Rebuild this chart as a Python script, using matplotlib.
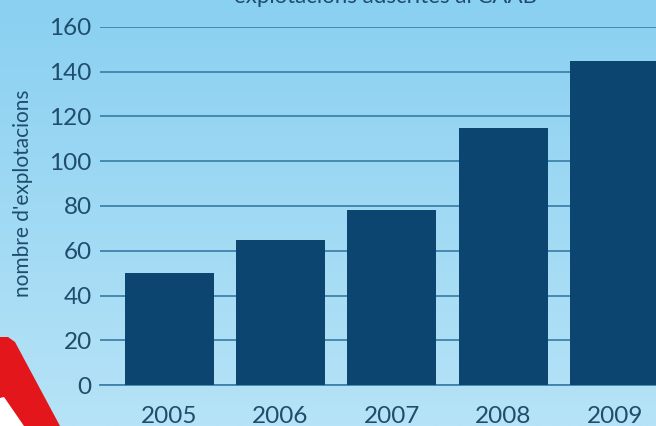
import numpy as np
import matplotlib.pyplot as plt
from matplotlib.patches import Polygon

years = ['2005', '2006', '2007', '2008', '2009']
explotacions = [50, 65, 78, 115, 145]
yticks = [0, 20, 40, 60, 80, 100, 120, 140, 160]

txt = '#1f4d6b'
plt.rcParams['font.family'] = ['Lato', 'DejaVu Sans']

fig = plt.figure(figsize=(6.56, 4.26), dpi=100)

# background gradient
bg = fig.add_axes([0, 0, 1, 1], zorder=0)
grad = np.linspace(0, 1, 256).reshape(-1, 1)
top = np.array([138, 208, 241]) / 255
bot = np.array([182, 227, 247]) / 255
img = top + (bot - top) * grad[:, :, None]
bg.imshow(img, aspect='auto', extent=[0, 1, 0, 1])
bg.set_axis_off()

# red warning sign corner
bg.add_patch(Polygon([(0, 1 - 337/426), (8/656, 1 - 337/426), (15/656, 1 - 342/426),
                      (60/656, 0), (0, 0)], closed=True,
                     facecolor='#e3161b', edgecolor='none', transform=bg.transAxes))
bg.add_patch(Polygon([(0, 1 - 398/426), (4/656, 1 - 397/426), (24/656, 0), (0, 0)],
                     closed=True, facecolor='white', edgecolor='none', transform=bg.transAxes))

ax = fig.add_axes([100/656, 41/426, 556/656, 358/426], zorder=1)
ax.patch.set_alpha(0)
x = np.arange(len(years))
ax.bar(x, explotacions, width=0.8, color='#0b4570', zorder=3)
ax.set_xlim(-0.62, 4.37)
ax.set_ylim(0, 160)
ax.set_yticks(yticks)
ax.grid(axis='y', color='#3f82ab', linewidth=1.3, zorder=1)
ax.set_axisbelow(True)
for s in ['top', 'right', 'left']:
    ax.spines[s].set_visible(False)
ax.spines['bottom'].set_color('#3f82ab')
ax.spines['bottom'].set_linewidth(1.3)
ax.set_xticks(x)
ax.set_xticklabels(years)
ax.tick_params(axis='both', length=0, labelsize=17.5, colors=txt)
ax.tick_params(axis='x', pad=15)
ax.tick_params(axis='y', pad=6)

fig.text(23/656, 1 - 193/426, "nombre d'explotacions", rotation=90, ha='center', va='center',
         fontsize=15, color=txt)
fig.text(385/656, 1 - 3/426, 'explotacions adscrites al CAAB', ha='center', va='baseline',
         fontsize=16, color=txt)

fig.savefig('out.png', dpi=100)
